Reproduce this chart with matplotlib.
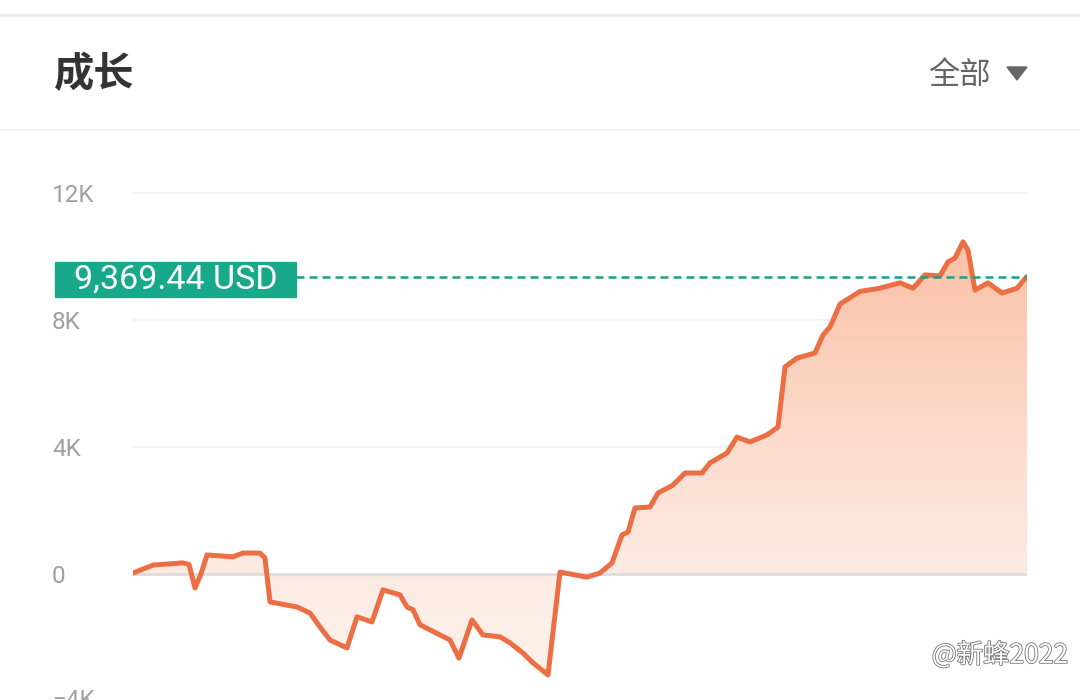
import numpy as np
import matplotlib
matplotlib.use('Agg')
import matplotlib.pyplot as plt
from matplotlib.patches import Rectangle, Polygon
from matplotlib.lines import Line2D
from matplotlib.colors import LinearSegmentedColormap
import matplotlib.patheffects as pe

plt.rcParams['font.family'] = ['Roboto', 'Noto Sans CJK SC', 'DejaVu Sans']

# 数据: 天数 与 累计收益 (K USD)
days = [0, 10, 25, 28, 31, 34, 37, 50, 55, 63.5, 66, 68.5, 82, 88.5, 93.5, 98.5,
        107, 112, 119.5, 125, 133.5, 137, 140, 143.5, 153.5, 158.5, 163, 169.5,
        175, 183.5, 188.5, 195, 200, 207.5, 213.5, 227, 233.5, 239.5, 244.5,
        247.5, 251, 258.5, 262.5, 270, 276, 284.5, 288.5, 297, 302, 308.5, 317,
        322.5, 326, 332, 341, 345, 348.5, 353.5, 363.5, 373.5, 383.5, 390, 396,
        403.5, 407.5, 411, 415, 417.5, 421, 427.5, 434.5, 442, 447]
growth_k = [0.03, 0.28, 0.35, 0.3, -0.44, 0.0, 0.6, 0.54, 0.66, 0.66, 0.5, -0.88,
            -1.04, -1.23, -1.67, -2.08, -2.33, -1.35, -1.51, -0.5, -0.66, -1.04,
            -1.13, -1.6, -1.92, -2.08, -2.65, -1.45, -1.92, -1.98, -2.17, -2.49,
            -2.8, -3.18, 0.06, -0.1, 0.03, 0.35, 1.23, 1.32, 2.08, 2.11, 2.55, 2.8,
            3.18, 3.18, 3.5, 3.81, 4.31, 4.16, 4.38, 4.63, 6.52, 6.8, 6.96, 7.53,
            7.78, 8.5, 8.9, 9.0, 9.17, 9.0, 9.42, 9.39, 9.83, 9.95, 10.46, 10.2,
            8.94, 9.17, 8.85, 9.0, 9.36944]
current_value = 9369.44
yticks = [0, 4000, 8000, 12000]
ytick_labels = ['0', '4K', '8K', '12K']

x = np.array(days)
y = np.array(growth_k) * 1000

W, H = 1080, 700
fig = plt.figure(figsize=(W / 100, H / 100), dpi=100)
fig.patch.set_facecolor('white')

# 顶部标题栏
fig.add_artist(Line2D([0, 1], [1 - 15 / H, 1 - 15 / H], color='#eeeeee', lw=2.5))
fig.add_artist(Line2D([0, 1], [1 - 130 / H, 1 - 130 / H], color='#f0f0f0', lw=1.5))
fig.text(54 / W, 1 - 75 / H, '成长', fontsize=29, fontweight='bold', color='#333333',
         va='center', ha='left', family=['Noto Sans CJK SC'])
fig.text(928 / W, 1 - 75 / H, '全部', fontsize=22.5, color='#666666',
         va='center', ha='left', family=['Noto Sans CJK SC'])
fig.add_artist(Polygon([[1007 / W, 1 - 67 / H], [1027 / W, 1 - 67 / H], [1017 / W, 1 - 80 / H]],
                       closed=True, color='#666666', transform=fig.transFigure))

# 主图
ax = fig.add_axes([133 / W, 0, 894 / W, (H - 180) / H])
ax.set_xlim(0, 447)
ax.set_ylim(-3969, 12409)
for s in ax.spines.values():
    s.set_visible(False)
ax.set_xticks([])
ax.set_yticks(yticks)
ax.set_yticklabels(ytick_labels)
ax.tick_params(axis='y', length=0, pad=58.3, labelsize=17.5, labelcolor='#a0a0a0')
for lab in ax.get_yticklabels():
    lab.set_ha('left')
ax.text(-81 / 894, -4000, '−4K', transform=ax.get_yaxis_transform(), fontsize=17.5,
        color='#a0a0a0', va='center', ha='left', clip_on=False)

for v in [4000, 8000, 12000]:
    ax.axhline(v, color='#f3f3f3', lw=1.5, zorder=1)
ax.axhline(0, color='#dddddd', lw=2, zorder=2)

# 渐变填充
cmap = LinearSegmentedColormap.from_list('fill', [(0.0, '#fef2ec'), (0.26, '#fdece4'),
                                                  (0.6, '#fcd9c9'), (1.0, '#fbc0a6')])
grad = np.linspace(0, 1, 256).reshape(-1, 1)
img = ax.imshow(grad, cmap=cmap, aspect='auto', origin='lower',
                extent=[0, 447, -3969, 10600], zorder=1.5)
poly = ax.fill_between(x, y, 0, color='none', lw=0)
img.set_clip_path(poly.get_paths()[0], transform=ax.transData)

ax.plot(x, y, color='#ec6e44', lw=3.6, solid_joinstyle='round', solid_capstyle='round', zorder=4)

# 当前值虚线与标签
ax.plot([(296 - 133) / 894 * 447, 447], [current_value, current_value], color='#1b9f85',
        lw=1.8, dashes=(3.2, 2), zorder=5)
fig.add_artist(Rectangle((55 / W, 1 - 297 / H), 241 / W, 35 / H, color='#17a98a',
                         transform=fig.transFigure))
fig.text(176 / W, 1 - 279.5 / H, f'{current_value:,.2f} USD', fontsize=24.5, color='white',
         ha='center', va='center')

# 水印
fig.text(1068 / W, 1 - 655 / H, '@新蜂2022', fontsize=19, color='white', ha='right', va='center',
         family=['Noto Sans CJK SC'],
         path_effects=[pe.withStroke(linewidth=1.2, foreground='#777777')])

fig.savefig('out.png', dpi=100)
